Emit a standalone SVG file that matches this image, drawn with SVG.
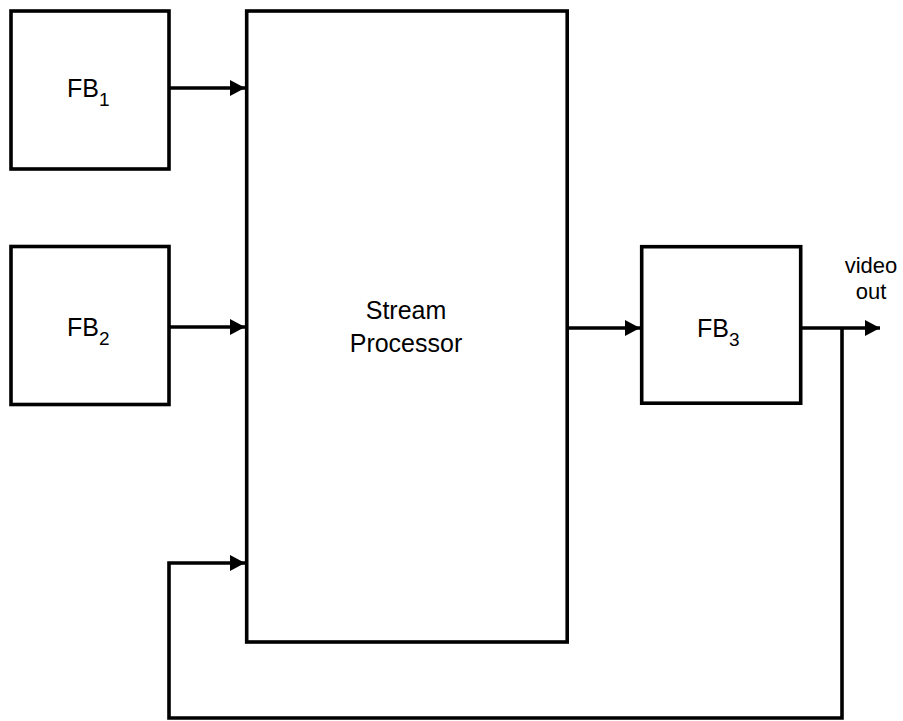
<svg xmlns="http://www.w3.org/2000/svg" width="903" height="721" viewBox="0 0 903 721">
<style>
.box{fill:#fff;stroke:#000;stroke-width:3.6}
.lbl{font-family:"Liberation Sans",Arial,sans-serif;font-size:25px;fill:#000}
.sub{font-size:19px}
.con{fill:none;stroke:#000;stroke-width:3.6}
</style>
<defs>
<marker id="ah" markerUnits="userSpaceOnUse" markerWidth="16" markerHeight="17" refX="15" refY="8" orient="auto">
<path d="M0,0 L15,8 L0,16 z" fill="#000"/>
</marker>
</defs>
<rect width="903" height="721" fill="#fff"/>
<g id="fb1">
<rect class="box" x="11" y="11" width="158" height="158"/>
<text class="lbl" x="67" y="97">FB<tspan class="sub" dy="9">1</tspan></text>
</g>
<g id="fb2">
<rect class="box" x="11" y="246.5" width="158" height="158"/>
<text class="lbl" x="67" y="336">FB<tspan class="sub" dy="9">2</tspan></text>
</g>
<g id="sp">
<rect class="box" x="246.7" y="11" width="320.5" height="631"/>
<text class="lbl" x="406" y="319" text-anchor="middle">Stream</text>
<text class="lbl" x="406" y="351.5" text-anchor="middle">Processor</text>
</g>
<g id="fb3">
<rect class="box" x="641.7" y="246.7" width="159" height="156.5"/>
<text class="lbl" x="697" y="337">FB<tspan class="sub" dy="9">3</tspan></text>
</g>
<g id="out">
<text class="lbl" x="871" y="273" text-anchor="middle" style="font-size:22px">video</text>
<text class="lbl" x="871" y="298.5" text-anchor="middle" style="font-size:22px">out</text>
</g>
<g id="connectors">
<path class="con" d="M170,88 H245" marker-end="url(#ah)"/>
<path class="con" d="M170,327 H245" marker-end="url(#ah)"/>
<path class="con" d="M568,328 H640" marker-end="url(#ah)"/>
<path class="con" d="M802,328 H880" marker-end="url(#ah)"/>
<path class="con" d="M842,328 V718 H169 V563 H245" marker-end="url(#ah)"/>
</g>
</svg>
